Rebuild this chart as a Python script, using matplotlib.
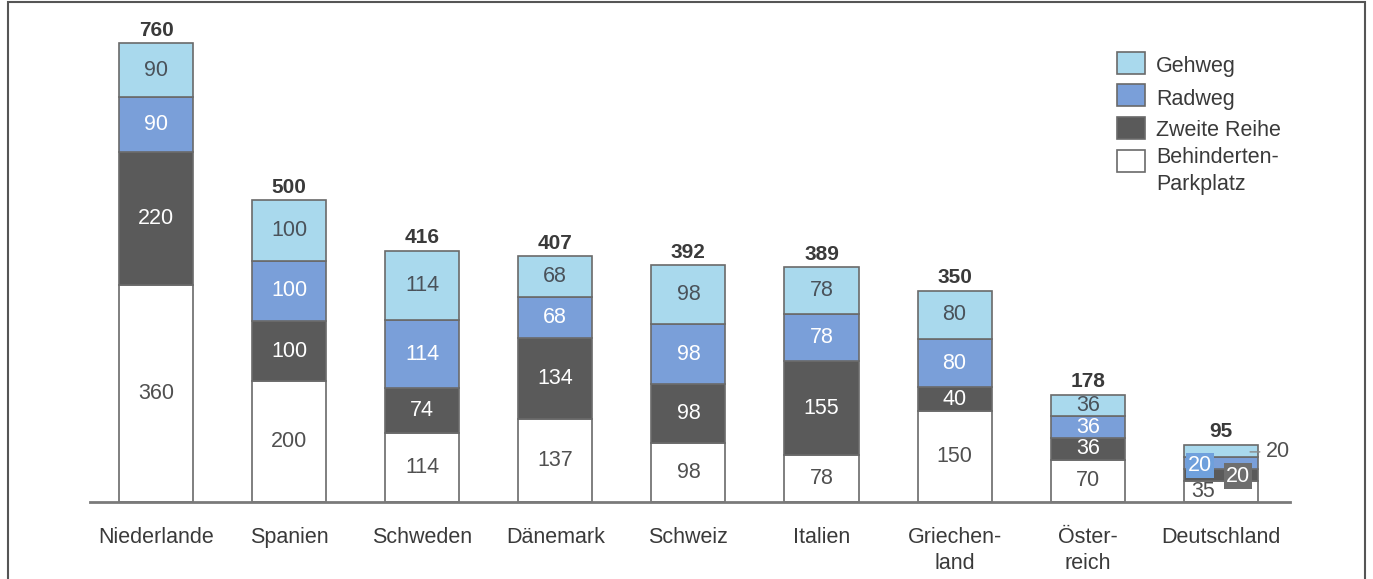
import matplotlib
matplotlib.use('Agg')
import matplotlib.pyplot as plt
import numpy as np
from matplotlib.patches import Rectangle

plt.rcParams['font.family'] = ['Liberation Sans', 'DejaVu Sans']

countries = ['Niederlande', 'Spanien', 'Schweden', 'Dänemark', 'Schweiz',
             'Italien', 'Griechen-\nland', 'Öster-\nreich', 'Deutschland']
behinderten = [360, 200, 114, 137, 98, 78, 150, 70, 35]
zweite_reihe = [220, 100, 74, 134, 98, 155, 40, 36, 20]
radweg = [90, 100, 114, 68, 98, 78, 80, 36, 20]
gehweg = [90, 100, 114, 68, 98, 78, 80, 36, 20]
totals = [760, 500, 416, 407, 392, 389, 350, 178, 95]

series = [('Behinderten-\nParkplatz', behinderten, '#ffffff', '#505050'),
          ('Zweite Reihe', zweite_reihe, '#5a5a5a', '#ffffff'),
          ('Radweg', radweg, '#7a9fd9', '#ffffff'),
          ('Gehweg', gehweg, '#a9d9ed', '#4a525a')]

FS = 15.5
W, H = 1373, 579
fig = plt.figure(figsize=(W / 100, H / 100), dpi=100)
ax = fig.add_axes([90 / W, 77 / H, 1200 / W, 483 / H])

x = np.arange(len(countries))
bottom = np.zeros(len(countries))
edge = '#6a6a6a'
for name, vals, col, tcol in series:
    vals = np.array(vals)
    ax.bar(x, vals, 0.556, bottom=bottom, color=col, edgecolor=edge,
           linewidth=1.2, zorder=2)
    for i, v in enumerate(vals):
        if i == len(countries) - 1:
            continue
        ax.text(x[i], bottom[i] + v / 2, str(v), ha='center', va='center',
                fontsize=FS, color=tcol, zorder=3)
    bottom += vals

# Deutschland: small segments, labels set off
last = len(countries) - 1
ax.text(x[last] - 0.135, 17, str(behinderten[last]),
        ha='center', va='center', fontsize=FS, color='#505050', zorder=4)
ax.text(x[last] + 0.128, 43, str(zweite_reihe[last]),
        ha='center', va='center', fontsize=FS, color='#ffffff', zorder=4,
        bbox=dict(boxstyle='square,pad=0.1', fc='#6e6e6e', ec='none'))
ax.text(x[last] - 0.158, 60, str(radweg[last]),
        ha='center', va='center', fontsize=FS, color='#ffffff', zorder=4,
        bbox=dict(boxstyle='square,pad=0.1', fc='#6fa0dc', ec='none'))
ax.annotate(str(gehweg[last]), xy=(x[last] + 0.22, 83),
            xytext=(x[last] + 0.335, 83),
            ha='left', va='center', fontsize=FS, color='#505050', zorder=4,
            arrowprops=dict(arrowstyle='-', color='#8a8a8a', lw=1,
                            shrinkA=2, shrinkB=0))

for i, t in enumerate(totals):
    ax.text(x[i], t + 6, str(t), ha='center', va='bottom', fontsize=15,
            fontweight='bold', color='#3a3a3a')

ax.set_xlim(-0.496, 8.52)
ax.set_ylim(0, 800)
ax.set_xticks(x)
ax.set_xticklabels(countries, fontsize=FS, color='#3a3a3a', linespacing=1.3,
                   va='top')
ax.tick_params(axis='x', length=0, pad=18)
ax.set_yticks([])
for s in ['top', 'right', 'left']:
    ax.spines[s].set_visible(False)
ax.spines['bottom'].set_color('#7a7a7a')
ax.spines['bottom'].set_linewidth(2)
ax.patch.set_visible(False)

# legend drawn by hand: box top and first text line, pixels from top
leg_rows = [(52, 67), (84, 100), (117, 131), (150, 158)]
for (name, _, col, _), (ytop, ytxt) in zip(series[::-1], leg_rows):
    fig.add_artist(Rectangle((1117 / W, 1 - (ytop + 22) / H), 28 / W, 22 / H,
                             transform=fig.transFigure, facecolor=col,
                             edgecolor=edge, linewidth=1.2))
    fig.text(1156 / W, 1 - (ytxt - 11) / H, name, ha='left', va='top',
             fontsize=FS, color='#3a3a3a', linespacing=1.4)

fig.add_artist(Rectangle((8 / W, -0.01), (1365 - 8) / W, 1.01 - 2 / H,
                         transform=fig.transFigure, fill=False,
                         edgecolor='#555555', linewidth=1.5))

fig.savefig('out.png', dpi=100)
